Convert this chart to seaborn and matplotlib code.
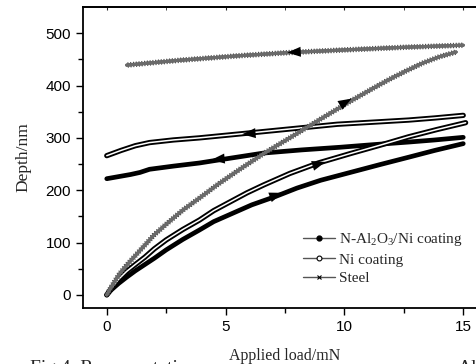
import matplotlib
matplotlib.use('Agg')
import matplotlib.pyplot as plt
import matplotlib.patheffects as pe
from matplotlib.lines import Line2D
import seaborn as sns
import pandas as pd

# Loading / unloading curves (load in mN, depth in nm)
nal_load_x = [0, 0.2, 0.5, 0.84, 1.2, 1.6, 2.0, 2.5, 3.2, 3.9, 4.5, 5.2, 6.1, 7.1, 8.0,
              9.0, 10.25, 11.5, 12.7, 13.8, 15.0]
nal_load_y = [0, 10, 22, 34, 46, 58, 70, 86, 106, 124, 140, 154, 172, 188, 204,
              219, 234, 249, 263, 276, 289]
nal_unload_x = [15.0, 13.8, 12.7, 11.2, 9.8, 8.2, 6.6, 5.6, 4.6, 3.9, 2.8, 1.8, 1.4,
                1.0, 0.5, 0.0]
nal_unload_y = [301, 296, 292, 287, 282, 277, 271, 264, 257, 252, 246, 240, 234,
                230, 226, 222]

ni_load_x = [0, 0.2, 0.5, 0.84, 1.2, 1.6, 2.0, 2.5, 3.2, 3.9, 4.5, 5.2, 5.9, 6.6, 7.7,
             8.9, 10.25, 11.5, 12.7, 13.9, 15.1]
ni_load_y = [0, 13, 30, 45, 58, 72, 88, 105, 125, 143, 161, 178, 195, 210, 232,
             252, 270, 286, 302, 316, 329]
ni_unload_x = [15.0, 13.8, 12.7, 11.2, 9.7, 7.7, 5.7, 4.8, 3.9, 2.8, 1.8, 1.2, 0.6,
               0.3, 0.0]
ni_unload_y = [343, 338, 334, 330, 326, 317, 308, 304, 300, 296, 291, 285, 276,
               271, 266]

steel_load_x = [0, 0.2, 0.5, 0.8, 1.1, 1.6, 2.0, 2.5, 3.2, 3.9, 4.7, 5.6, 6.6, 7.7,
                9.0, 10.25, 11.1, 11.9, 12.6, 13.3, 14.0, 14.7]
steel_load_y = [0, 16, 38, 55, 70, 95, 115, 135, 162, 185, 212, 240, 270, 300,
                336, 370, 392, 412, 428, 443, 455, 464]
steel_unload_x = [15.0, 12.5, 10.0, 7.7, 5.6, 3.0, 0.84]
steel_unload_y = [477, 473, 468, 463, 457, 448, 439]

labels = ['N-Al$\\mathregular{_2}$O$\\mathregular{_3}$/Ni coating', 'Ni coating', 'Steel']

# arrow tips and tails along the curves
arrow_tip_x = [7.4, 4.4, 9.2, 5.7, 10.3, 7.6]
arrow_tip_y = [195, 258, 254, 307, 375, 463]
arrow_tail_x = [6.6, 5.3, 8.4, 6.5, 9.7, 8.4]
arrow_tail_y = [182, 262, 243, 310, 359, 465]

rows = []
for name, lx, ly, ux, uy in [
        ('nal', nal_load_x, nal_load_y, nal_unload_x, nal_unload_y),
        ('ni', ni_load_x, ni_load_y, ni_unload_x, ni_unload_y),
        ('steel', steel_load_x, steel_load_y, steel_unload_x, steel_unload_y)]:
    for x, y in zip(lx, ly):
        rows.append({'sample': name, 'branch': 'load', 'load': x, 'depth': y})
    for x, y in zip(ux, uy):
        rows.append({'sample': name, 'branch': 'unload', 'load': x, 'depth': y})
df = pd.DataFrame(rows)

sns.set_style('ticks')
plt.rcParams['font.family'] = ['Liberation Sans', 'DejaVu Sans']
plt.rcParams['mathtext.fontset'] = 'custom'
plt.rcParams['mathtext.rm'] = 'Liberation Serif'

fig = plt.figure(figsize=(4.77, 3.64), dpi=100)
ax = fig.add_axes([83 / 477, 1 - 308 / 364, 404 / 477, 301 / 364])

ticked = dict(spacing=2.0, length=0.8, linewidth=0.9, foreground='#4a4a4a')
styles = {
    'nal': dict(color='black', lw=3.4),
    'ni': dict(color='white', lw=1.1,
               path_effects=[pe.Stroke(linewidth=3.8, foreground='black'), pe.Normal()]),
    'steel': dict(color='#6a6a6a', lw=2.2,
                  path_effects=[pe.withTickedStroke(angle=90, **ticked),
                                pe.withTickedStroke(angle=-90, **ticked),
                                pe.Normal()]),
}

for (name, branch), sub in df.groupby(['sample', 'branch'], sort=False):
    sns.lineplot(data=sub, x='load', y='depth', sort=False, estimator=None,
                 ax=ax, legend=False, **styles[name])

for tx, ty, sx, sy in zip(arrow_tip_x, arrow_tip_y, arrow_tail_x, arrow_tail_y):
    ax.annotate('', xy=(tx, ty), xytext=(sx, sy),
                arrowprops=dict(arrowstyle='-|>,head_length=0.8,head_width=0.3',
                                color='black', lw=0.01, shrinkA=0, shrinkB=0,
                                mutation_scale=12))

ax.set_xlim(-1, 16)
ax.set_ylim(-25, 550)
ax.set_xticks([0, 5, 10, 15])
ax.set_yticks([0, 100, 200, 300, 400, 500])
ax.set_xticks([2.5, 7.5, 12.5], minor=True)
ax.set_yticks([50, 150, 250, 350, 450], minor=True)
ax.tick_params(which='both', direction='out', labelsize=11, width=1, colors='black')
ax.tick_params(which='major', length=5)
ax.tick_params(which='minor', length=3.5)
sec = ax.secondary_xaxis('top')
sec.set_xticks([0, 5, 10, 15])
sec.set_xticks([2.5, 7.5, 12.5], minor=True)
sec.tick_params(which='both', direction='in', length=2.5, labeltop=False)
sec.spines['top'].set_linewidth(1.3)
for s in ax.spines.values():
    s.set_linewidth(1.3)
    s.set_color('black')

ax.set_xlabel('Applied load/mN', family='Liberation Serif', fontsize=11.5, labelpad=10)
ax.set_ylabel('Depth/nm', family='Liberation Serif', fontsize=12.5, labelpad=10)

handles = [
    Line2D([], [], color='#555555', lw=1, marker='o', ms=3.5, mfc='black', mec='black'),
    Line2D([], [], color='#555555', lw=1, marker='o', ms=3.5, mfc='white', mec='black', mew=0.8),
    Line2D([], [], color='#555555', lw=1, marker='x', ms=3.5, mec='black', mew=0.8),
]
ax.legend(handles, labels, loc='upper left', bbox_to_anchor=(0.51, 0.3), frameon=False,
          handlelength=2.1, handletextpad=0.3, labelspacing=0.3,
          prop={'family': 'Liberation Serif', 'size': 11})

# caption of the source figure, cut off by the image border
fig.text(30 / 477, 1 - 360 / 364, 'Fig.4  Representati', family='Liberation Serif',
         fontsize=14, va='top', ha='left')
fig.text(458 / 477, 1 - 360 / 364, 'Al', family='Liberation Serif',
         fontsize=14, va='top', ha='left')

fig.savefig('out.png', dpi=100)
